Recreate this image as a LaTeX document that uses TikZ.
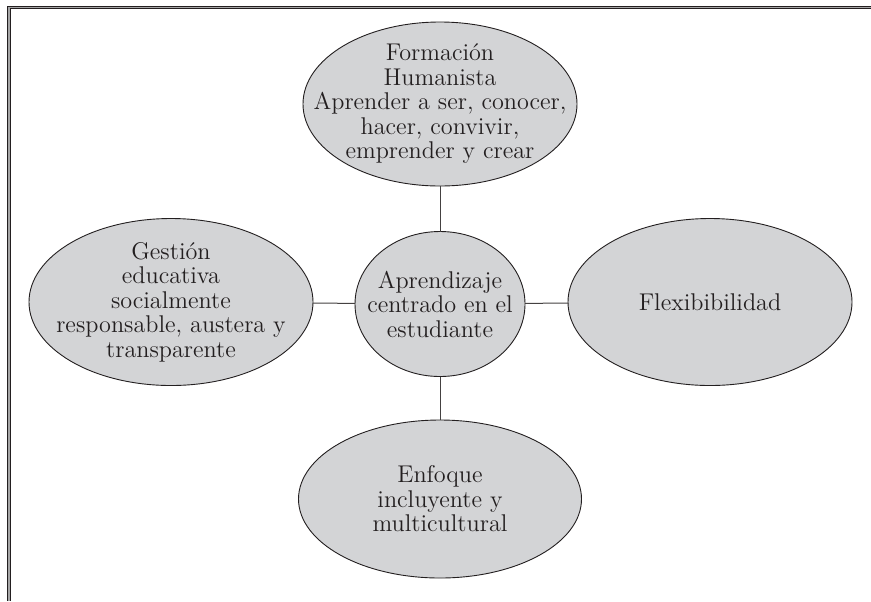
\documentclass[tikz,border=0pt]{standalone}
\usepackage{tikz}
\usetikzlibrary{shapes.geometric}
\definecolor{bubblegray}{RGB}{211,212,214}
\definecolor{inkgray}{RGB}{35,31,32}

\begin{document}
\begin{tikzpicture}[x=0.5pt, y=-0.5pt,
        bubble/.style={ellipse, draw=inkgray, line width=0.45pt, fill=bubblegray, outer sep=0pt, inner sep=0pt},
        txt/.style={align=center, text=inkgray, font=\fontsize{12.1}{12.25}\selectfont},
        link/.style={draw=inkgray!85, line width=0.5pt}]
        \useasboundingbox (0,0) rectangle (871,601);
        \draw[draw=inkgray, line width=0.6pt, double=gray!70, double distance=0.6pt] (9,601) -- (9,7.5) -- (871,7.5);

        \node[bubble, minimum width=85pt, minimum height=72.5pt] (centro) at (440,304) {};
        \node[bubble, minimum width=137pt, minimum height=82pt] (humanista) at (440,104) {};
        \node[bubble, minimum width=142pt, minimum height=83.5pt] (gestion) at (171,302) {};
        \node[bubble, minimum width=142pt, minimum height=83.5pt] (flexible) at (710,302) {};
        \node[bubble, minimum width=141.5pt, minimum height=79pt] (enfoque) at (440,499) {};

        \draw[link] (centro) -- (humanista);
        \draw[link] (centro) -- (gestion);
        \draw[link] (centro) -- (flexible);
        \draw[link] (centro) -- (enfoque);

        \node[txt] (centro-txt) at (centro) {Aprendizaje\\centrado en el\\estudiante};
        \node[txt] (humanista-txt) at (humanista) {Formación\\Humanista\\Aprender a ser, conocer,\\hacer, convivir,\\emprender y crear};
        \node[txt] (gestion-txt) at (gestion) {Gestión\\educativa\\socialmente\\responsable, austera y\\transparente};
        \node[txt] (flexible-txt) at (flexible) {Flexibibilidad};
        \node[txt] (enfoque-txt) at (enfoque) {Enfoque\\incluyente y\\multicultural};
    \end{tikzpicture}
\end{document}
